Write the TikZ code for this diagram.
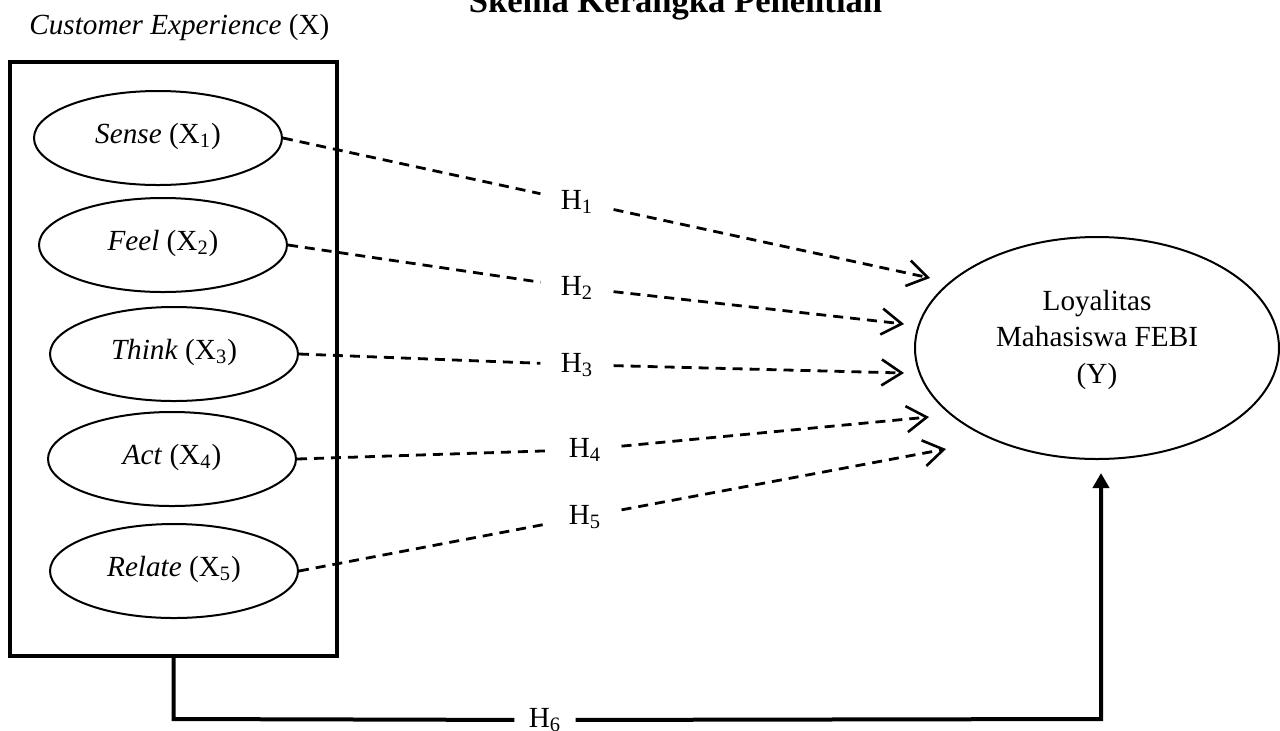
\documentclass[tikz,border=0pt]{standalone}
\usepackage{fontspec}
\setmainfont{Liberation Serif}
\usetikzlibrary{arrows.meta,shapes.geometric}

\begin{document}
\begin{tikzpicture}[x=0.5pt,y=-0.5pt,
  every node/.style={font=\fontsize{14.6pt}{18.25pt}\selectfont},
  dimnode/.style={draw, ellipse, line width=1pt, minimum width=124pt,
    minimum height=47pt, inner sep=0pt, text height=9pt, text depth=4pt},
  hlab/.style={inner xsep=10pt, inner ysep=1pt, anchor=base},
  hpath/.style={line width=1.4pt, dash pattern=on 5pt off 3.5pt,
    -{Straight Barb[length=10pt,width=13pt,line width=1.3pt]}},
  mainpath/.style={line width=2pt}
]
\useasboundingbox (0,0) rectangle (1280,730);

% headings
\node[anchor=base, font=\fontsize{17.3pt}{20pt}\selectfont\bfseries] (title) at (675.5,12) {Skema Kerangka Penelitian};
\node[anchor=base west, inner sep=0pt] (xlabel) at (29,34) {\textit{Customer Experience} (X)};

% the dimension block
\node[draw, line width=2pt, minimum width=163.5pt, minimum height=297pt, inner sep=0pt] (box) at (173.5,359) {};

\node[dimnode] (sense)  at (158,138) {\textit{Sense} (X\textsubscript{1})};
\node[dimnode] (feel)   at (163,245) {\textit{Feel} (X\textsubscript{2})};
\node[dimnode] (think)  at (174,354) {\textit{Think} (X\textsubscript{3})};
\node[dimnode] (act)    at (172,459) {\textit{Act} (X\textsubscript{4})};
\node[dimnode] (relate) at (174,571) {\textit{Relate} (X\textsubscript{5})};

% dependent variable
\node[draw, ellipse, line width=1pt, minimum width=182pt, minimum height=111pt,
  inner sep=0pt, align=center, text height=40pt, text depth=5pt] (loyal) at (1097,348)
  {Loyalitas\\Mahasiswa FEBI\\(Y)};

% hypothesis labels
\node[hlab] (h1) at (577,209) {H\textsubscript{1}};
\node[hlab] (h2) at (577,295) {H\textsubscript{2}};
\node[hlab] (h3) at (577,372) {H\textsubscript{3}};
\node[hlab] (h4) at (585,457) {H\textsubscript{4}};
\node[hlab] (h5) at (585,524) {H\textsubscript{5}};
\node[inner xsep=7pt, inner ysep=1pt] (h6) at (545,720) {H\textsubscript{6}};

% arrow ends in front of Y
\coordinate (t1) at (930,278);
\coordinate (t2) at (904,324);
\coordinate (t3) at (904,373);
\coordinate (t4) at (929,417);
\coordinate (t5) at (946,449);

% partial hypotheses
\draw[hpath] (sense.east)  -- (h1) -- (t1);
\draw[hpath] (feel.east)   -- (h2) -- (t2);
\draw[hpath] (think.east)  -- (h3) -- (t3);
\draw[hpath] (act.east)    -- (h4) -- (t4);
\draw[hpath] (relate.east) -- (h5) -- (t5);

% simultaneous hypothesis
\coordinate (bl) at (173.5,719);
\coordinate (br) at (1101,719);
\coordinate (yt) at (1101,473);
\draw[mainpath] (box.south) -- (bl) -- (h6);
\draw[mainpath, -{Triangle[length=7.5pt,width=8pt]}] (h6) -- (br) -- (yt);
\end{tikzpicture}
\end{document}
